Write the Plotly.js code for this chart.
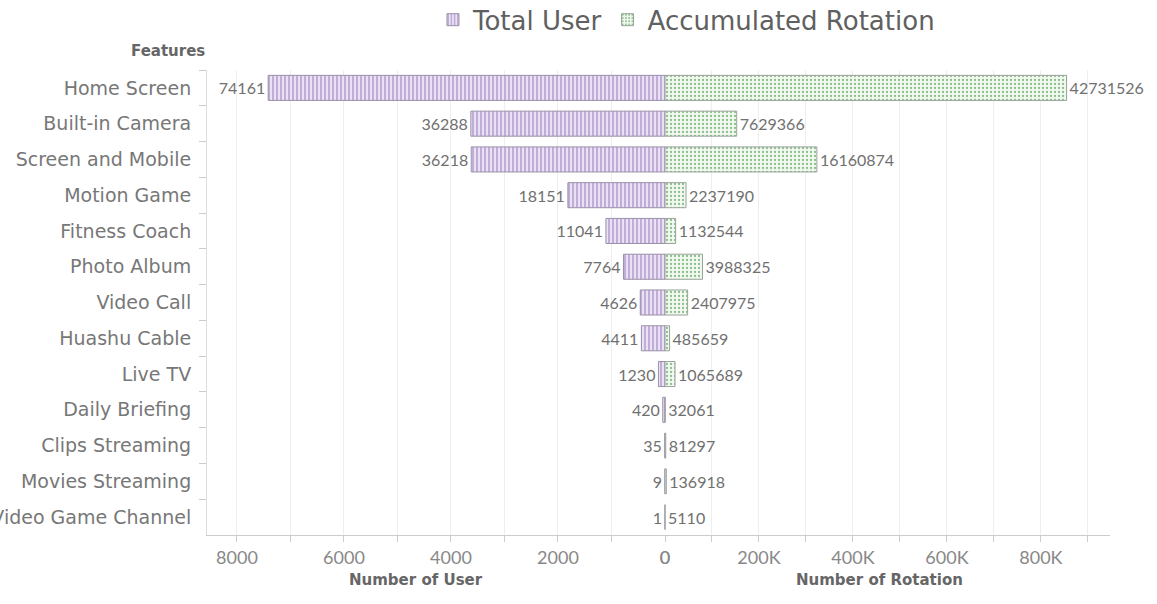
<!DOCTYPE html>
<html>
<head>
<meta charset="utf-8">
<script src="https://cdn.plot.ly/plotly-3.0.1.min.js"></script>
<style>html,body{margin:0;padding:0;background:#fff;}#chart{width:1157px;height:604px;}</style>
</head>
<body>
<div id="chart"></div>
<script>
const categories = ["Home Screen","Built-in Camera","Screen and Mobile","Motion Game","Fitness Coach","Photo Album","Video Call","Huashu Cable","Live TV","Daily Briefing","Clips Streaming","Movies Streaming","Video Game Channel"];
const totalUser = [74161,36288,36218,18151,11041,7764,4626,4411,1230,420,35,9,1];
const accumulatedRotation = [42731526,7629366,16160874,2237190,1132544,3988325,2407975,485659,1065689,32061,81297,136918,5110];
const userTickVals = [0,10000,20000,30000,40000,50000,60000,70000,80000];
const userTickText = ["0","","2000","","4000","","6000","","8000"];
const rotTickVals = [0,5e6,10e6,15e6,20e6,25e6,30e6,35e6,40e6,45e6];
const rotTickText = ["0","","200K","","400K","","600K","","800K",""];

const FONT = "Lato, 'Noto Sans', sans-serif";
const WIDE = "'DejaVu Sans', 'Noto Sans', sans-serif";
const traces = [
  {
    type: "bar", orientation: "h", name: "Total User",
    x: totalUser, y: categories, xaxis: "x", yaxis: "y",
    text: totalUser.map(String), textposition: "outside", cliponaxis: false,
    textfont: {family: FONT, size: 16, color: "#707070"},
    marker: {color: "#ebe1f5", line: {color: "#9a8fa8", width: 1},
      pattern: {shape: "|", fgcolor: "#a48cc6", bgcolor: "#ebe1f5", size: 4, solidity: 0.3}},
    hoverinfo: "x+y"
  },
  {
    type: "bar", orientation: "h", name: "Accumulated Rotation",
    x: accumulatedRotation, y: categories, xaxis: "x2", yaxis: "y",
    text: accumulatedRotation.map(String), textposition: "outside", cliponaxis: false,
    textfont: {family: FONT, size: 16, color: "#707070"},
    marker: {color: "#f1f9f0", line: {color: "#9aa39a", width: 1},
      pattern: {shape: ".", fgcolor: "#8cbf8c", bgcolor: "#f1f9f0", size: 4, solidity: 0.25}},
    hoverinfo: "x+y"
  }
];

const split = 458/903;
const layout = {
  width: 1157, height: 604,
  margin: {l: 207, r: 47, t: 70, b: 69, autoexpand: false},
  paper_bgcolor: "#fff", plot_bgcolor: "#fff",
  font: {family: FONT, color: "#777"},
  bargap: 0.3,
  showlegend: true,
  legend: {orientation: "h", x: 0.531, xanchor: "center", y: 1.108, yanchor: "middle",
    font: {family: WIDE, size: 26, color: "#606060"}, itemclick: false, traceorder: "normal"},
  xaxis: {domain: [0, split], range: [85600, 0], anchor: "y",
    tickmode: "array", tickvals: userTickVals, ticktext: userTickText,
    showgrid: true, gridcolor: "#eeeeee", zeroline: false,
    showline: true, linecolor: "#cccccc", ticks: "outside", ticklen: 6, tickcolor: "#cccccc",
    tickfont: {family: FONT, size: 18, color: "#888"}},
  xaxis2: {domain: [split, 1], range: [0, 47.35e6], anchor: "y",
    tickmode: "array", tickvals: rotTickVals, ticktext: rotTickText,
    showgrid: true, gridcolor: "#eeeeee", zeroline: false,
    showline: true, linecolor: "#cccccc", ticks: "outside", ticklen: 6, tickcolor: "#cccccc",
    tickfont: {family: FONT, size: 18, color: "#888"}},
  yaxis: {type: "category", autorange: "reversed", anchor: "x", automargin: false,
    showline: true, linecolor: "#dddddd", ticks: "outside", tickson: "boundaries",
    ticklen: 7, tickcolor: "#cccccc", showgrid: false, zeroline: false,
    tickfont: {family: WIDE, size: 19, color: "#777"}, ticklabelstandoff: 11},
  annotations: [
    {text: "<b>Features</b>", xref: "paper", yref: "paper", x: -0.043, y: 1.041,
      showarrow: false, xanchor: "center", yanchor: "middle", font: {family: WIDE, size: 15, color: "#666"}},
    {text: "<b>Number of User</b>", xref: "paper", yref: "paper", x: 0.2315, y: -0.097,
      showarrow: false, xanchor: "center", yanchor: "middle", font: {family: WIDE, size: 15, color: "#666"}},
    {text: "<b>Number of Rotation</b>", xref: "paper", yref: "paper", x: 0.745, y: -0.097,
      showarrow: false, xanchor: "center", yanchor: "middle", font: {family: WIDE, size: 15, color: "#666"}}
  ]
};
Plotly.newPlot("chart", traces, layout, {displayModeBar: false, staticPlot: true});
</script>
</body>
</html>
